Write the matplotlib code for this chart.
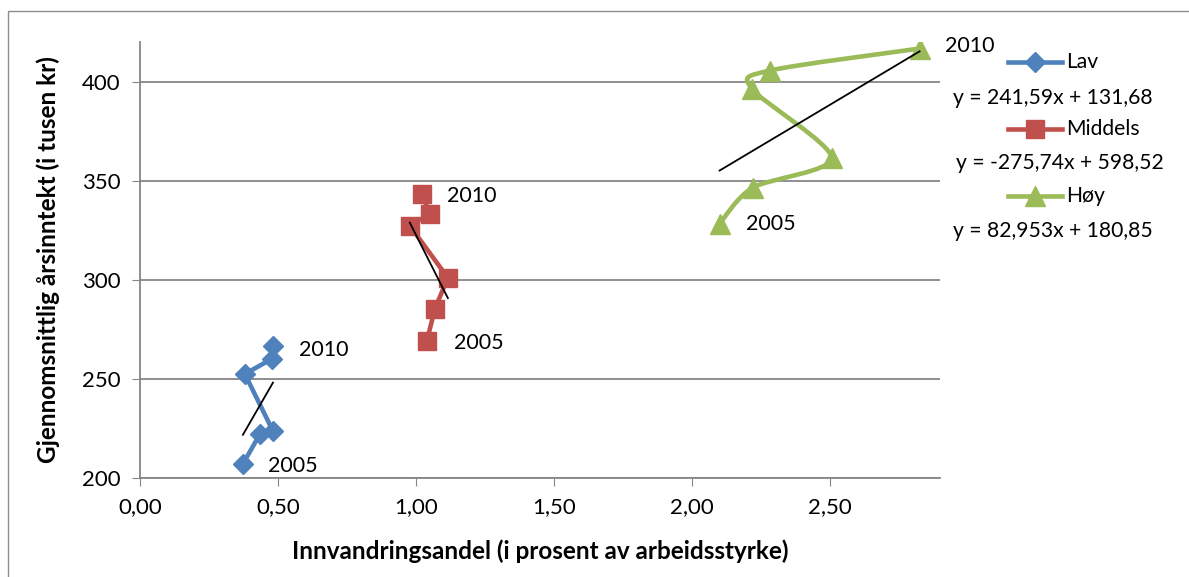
import numpy as np
import matplotlib
matplotlib.use("Agg")
import matplotlib.pyplot as plt
from matplotlib.path import Path
from matplotlib.patches import PathPatch, Rectangle
from matplotlib.lines import Line2D

plt.rcParams['font.family'] = ['Lato', 'DejaVu Sans']

# data (2005 -> 2010)
lav_x = [0.373, 0.435, 0.482, 0.380, 0.478, 0.482]
lav_y = [207.1, 222.2, 223.7, 252.5, 260.1, 266.7]
mid_x = [1.040, 1.069, 1.116, 0.978, 1.051, 1.022]
mid_y = [269.2, 285.4, 301.0, 327.3, 333.3, 343.4]
hoy_x = [2.101, 2.221, 2.507, 2.217, 2.283, 2.826]
hoy_y = [328.3, 346.5, 361.6, 396.5, 405.6, 416.7]

names = ["Lav", "Middels", "Høy"]
slopes = [241.59, -275.74, 82.953]
intercepts = [131.68, 598.52, 180.85]
eq_labels = ["y = 241,59x + 131,68", "y = -275,74x + 598,52", "y = 82,953x + 180,85"]
colors = ["#4F81BD", "#C0504D", "#9BBB59"]
markers = ["D", "s", "^"]
msizes = [10, 13.5, 15]

xticks = [0, 0.5, 1.0, 1.5, 2.0, 2.5]
yticks = [200, 250, 300, 350, 400]


def smooth_path(xs, ys):
    pts = np.column_stack([xs, ys])
    n = len(pts)
    verts = [pts[0]]
    codes = [Path.MOVETO]
    for i in range(n - 1):
        p0 = pts[i - 1] if i > 0 else pts[i]
        p1 = pts[i]
        p2 = pts[i + 1]
        p3 = pts[i + 2] if i + 2 < n else pts[i + 1]
        c1 = p1 + (p2 - p0) / 7
        c2 = p2 - (p3 - p1) / 7
        verts += [c1, c2, p2]
        codes += [Path.CURVE4] * 3
    return Path(verts, codes)


fig = plt.figure(figsize=(11.89, 5.77), dpi=100)
fig.patches.append(Rectangle((8 / 1189, -0.1), 1.2, 1.1 - 11 / 577, transform=fig.transFigure,
                             fill=False, edgecolor="#8c8c8c", linewidth=1))
ax = fig.add_axes([140 / 1189, (577 - 478) / 577, 800 / 1189, (478 - 42) / 577])

series = [(lav_x, lav_y), (mid_x, mid_y), (hoy_x, hoy_y)]
for i, (xs, ys) in enumerate(series):
    if i == 2:
        ax.add_patch(PathPatch(smooth_path(xs, ys), fill=False, edgecolor=colors[i],
                               linewidth=3.3, capstyle='round', joinstyle='round', zorder=3))
        ax.plot(xs, ys, linestyle='none', marker=markers[i], markersize=msizes[i],
                color=colors[i], zorder=4)
    else:
        ax.plot(xs, ys, color=colors[i], linewidth=3.3, marker=markers[i],
                markersize=msizes[i], solid_joinstyle='round', zorder=4)
    tx = np.array([min(xs), max(xs)])
    ax.plot(tx, slopes[i] * tx + intercepts[i], color="black", linewidth=1.3, zorder=5)

# year labels
fs_ann = 15.5
ax.text(0.465, 206, "2005", fontsize=fs_ann, va='center')
ax.text(0.578, 264.5, "2010", fontsize=fs_ann, va='center')
ax.text(1.137, 268, "2005", fontsize=fs_ann, va='center')
ax.text(1.113, 342.5, "2010", fontsize=fs_ann, va='center')
ax.text(2.196, 328, "2005", fontsize=fs_ann, va='center')
ax.text(2.917, 418, "2010", fontsize=fs_ann, va='center', clip_on=False)

ax.set_xlim(0, 2.9)
ax.set_ylim(200, 420)
ax.set_xticks(xticks)
ax.set_xticklabels([f"{t:.2f}".replace(".", ",") for t in xticks])
ax.set_yticks(yticks)
ax.tick_params(labelsize=16, length=6, color="#868686", direction='out', pad=8)
ax.grid(axis='y', color="#868686", linewidth=1.3)
ax.set_axisbelow(True)
for s in ["top", "right"]:
    ax.spines[s].set_visible(False)
for s in ["left", "bottom"]:
    ax.spines[s].set_color("#868686")
    ax.spines[s].set_linewidth(1.3)

ax.set_xlabel("Innvandringsandel (i prosent av arbeidsstyrke)", fontsize=17.5,
              fontweight='bold', labelpad=16)
ax.set_ylabel("Gjennomsnittlig årsinntekt (i tusen kr)", fontsize=17.5,
              fontweight='bold', labelpad=16)

# legend with trendline equations
H = 577
fs_leg = 15.2
leg_y = [62, 129, 196]
eq_y = [98, 163, 231]
eq_x = [1053, 1060, 1053]
for i in range(3):
    yy = 1 - leg_y[i] / H
    fig.add_artist(Line2D([1008 / 1189, 1062 / 1189], [yy, yy], color=colors[i],
                          linewidth=3.3, transform=fig.transFigure))
    fig.add_artist(Line2D([1035 / 1189], [yy], color=colors[i], marker=markers[i],
                          markersize=msizes[i], transform=fig.transFigure))
    fig.text(1066 / 1189, yy, names[i], fontsize=fs_leg, va='center', ha='left')
    fig.text(eq_x[i] / 1189, 1 - eq_y[i] / H, eq_labels[i], fontsize=fs_leg, va='center', ha='center')

fig.savefig("out.png", dpi=100)
